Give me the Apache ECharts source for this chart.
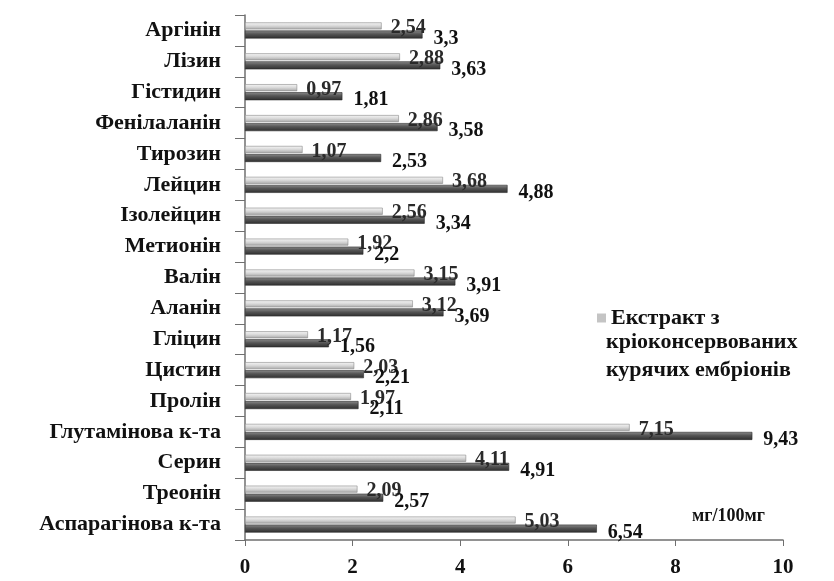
<!DOCTYPE html>
<html>
<head>
<meta charset="utf-8">
<script src="https://cdn.jsdelivr.net/npm/echarts@6/dist/echarts.min.js"></script>
<style>
  html, body { margin: 0; padding: 0; background: #fff; }
  #chart { width: 834px; height: 581px; }
</style>
</head>
<body>
<div id="chart"></div>
<script>
// амінокислоти, зверху вниз
const categories = ['Аргінін', 'Лізин', 'Гістидин', 'Фенілаланін', 'Тирозин', 'Лейцин', 'Ізолейцин',
  'Метионін', 'Валін', 'Аланін', 'Гліцин', 'Цистин', 'Пролін', 'Глутамінова к-та', 'Серин',
  'Треонін', 'Аспарагінова к-та']
const extractValues = [2.54, 2.88, 0.97, 2.86, 1.07, 3.68, 2.56, 1.92, 3.15, 3.12, 1.17, 2.03, 1.97, 7.15, 4.11, 2.09, 5.03]
const otherValues = [3.3, 3.63, 1.81, 3.58, 2.53, 4.88, 3.34, 2.2, 3.91, 3.69, 1.56, 2.21, 2.11, 9.43, 4.91, 2.57, 6.54]
const xTicks = [0, 2, 4, 6, 8, 10]

const extractName = 'Екстракт з кріоконсервованих курячих ембріонів'
const serif = '"Liberation Serif", "Times New Roman", serif'

const chart = echarts.init(document.getElementById('chart'))

const fmt = p => String(p.value).replace('.', ',')

const option = {
  animation: false,
  backgroundColor: '#fff',
  grid: {
    left: 245,
    right: 51,
    top: 15,
    bottom: 41
  },
  legend: {
    data: [{ name: extractName, itemStyle: { color: '#c4c4c4', borderWidth: 0 } }],
    left: 592,
    top: 302,
    icon: 'rect',
    itemWidth: 9,
    itemHeight: 9,
    itemGap: 4,
    formatter: () => 'Екстракт з',
    textStyle: {
      fontFamily: serif,
      fontWeight: 'bold',
      fontSize: 22,
      color: '#111'
    }
  },
  graphic: [
    {
      type: 'text',
      left: 606,
      top: 328,
      style: {
        text: 'кріоконсервованих\nкурячих ембріонів',
        font: 'bold 22px ' + serif,
        lineHeight: 28,
        fill: '#111'
      }
    },
    {
      type: 'text',
      left: 692,
      top: 507,
      style: {
        text: 'мг/100мг',
        font: 'bold 18px ' + serif,
        fill: '#111'
      }
    }
  ],
  xAxis: {
    type: 'value',
    min: 0,
    max: 10,
    interval: 2,
    axisLine: { show: true, lineStyle: { color: '#6f6f6f', width: 1.5 } },
    axisTick: { show: true, length: 6, lineStyle: { color: '#6f6f6f' } },
    splitLine: { show: false },
    axisLabel: {
      margin: 17,
      fontFamily: serif,
      fontWeight: 'bold',
      fontSize: 21,
      color: '#111',
      formatter: v => xTicks.includes(v) ? String(v) : ''
    }
  },
  yAxis: {
    type: 'category',
    inverse: true,
    data: categories,
    axisLine: { show: true, lineStyle: { color: '#6f6f6f', width: 1.5 } },
    axisTick: { show: true, length: 10, lineStyle: { color: '#6f6f6f' } },
    axisLabel: {
      margin: 24,
      fontFamily: serif,
      fontWeight: 'bold',
      fontSize: 22,
      color: '#111'
    }
  },
  series: [
    {
      name: extractName,
      type: 'bar',
      data: extractValues,
      barWidth: 7,
      barGap: '15%',
      itemStyle: {
        color: new echarts.graphic.LinearGradient(0, 0, 0, 1, [
          { offset: 0, color: '#f6f6f6' },
          { offset: 0.5, color: '#d8d8d8' },
          { offset: 1, color: '#a8a8a8' }
        ]),
        borderColor: '#8a8a8a',
        borderWidth: 0.6
      },
      label: {
        show: true,
        position: 'right',
        offset: [7, 2],
        distance: 2,
        formatter: fmt,
        fontFamily: serif,
        fontWeight: 'bold',
        fontSize: 20,
        color: '#2a2a2a'
      }
    },
    {
      name: 'контроль',
      type: 'bar',
      data: otherValues,
      barWidth: 8,
      itemStyle: {
        color: new echarts.graphic.LinearGradient(0, 0, 0, 1, [
          { offset: 0, color: '#8c8c8c' },
          { offset: 0.45, color: '#555' },
          { offset: 1, color: '#2e2e2e' }
        ]),
        borderColor: '#2a2a2a',
        borderWidth: 0.6
      },
      label: {
        show: true,
        position: 'right',
        offset: [9, 4],
        distance: 2,
        formatter: fmt,
        fontFamily: serif,
        fontWeight: 'bold',
        fontSize: 20,
        color: '#111'
      }
    }
  ]
}

chart.setOption(option)
</script>
</body>
</html>
